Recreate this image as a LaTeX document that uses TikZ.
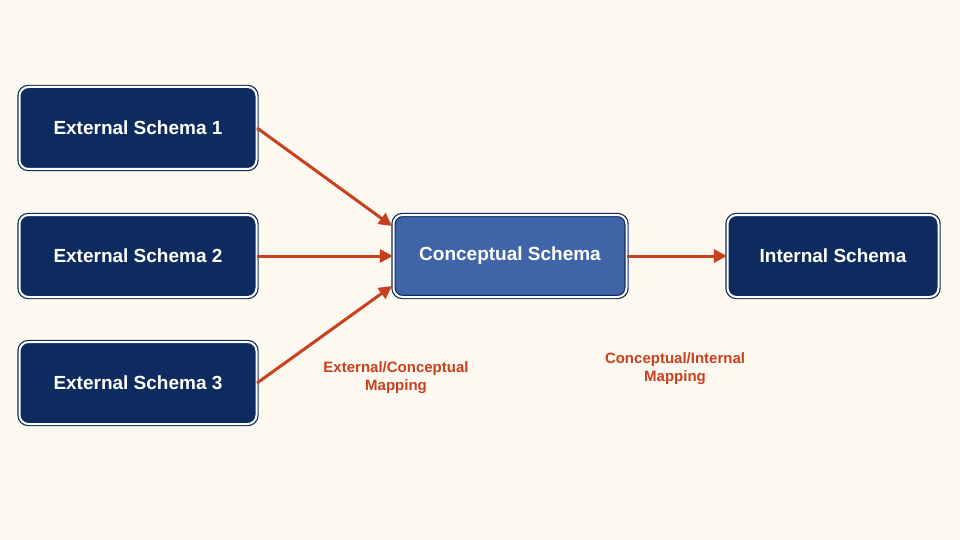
\documentclass[tikz,border=0pt]{standalone}
\usepackage{fontspec}
\setmainfont{Liberation Sans}
\usetikzlibrary{arrows.meta}
\definecolor{bg}{HTML}{FDF9F1}
\definecolor{navy}{HTML}{0D2B5E}
\definecolor{mid}{HTML}{4064A8}
\definecolor{arr}{HTML}{C8401E}
\begin{document}
\begin{tikzpicture}[x=1pt,y=-1pt,
 box/.style={draw=navy,double=white,double distance=2pt,line width=1.2pt,rounded corners=9pt,fill=navy,text=white,font=\bfseries\fontsize{19}{22}\selectfont,minimum height=82pt,inner sep=0pt},
 con/.style={box,fill=mid},
 ar/.style={draw=arr,line width=3pt,-{Triangle[length=13pt,width=13pt]}},
 lab/.style={text=arr,font=\bfseries\fontsize{15}{18}\selectfont,align=center}]
\fill[bg] (0,0) rectangle (960,540);
\node[box,minimum width=237pt] (e1) at (138,128) {External Schema 1};
\node[box,minimum width=237pt] (e2) at (138,256) {External Schema 2};
\node[box,minimum width=237pt] (e3) at (138,383) {External Schema 3};
\node[con,minimum width=233pt] (c) at (510,256) {Conceptual Schema};
\node[box,minimum width=211pt] (i) at (833,256) {Internal Schema};
\coordinate (c1) at (392,226);
\coordinate (c3) at (392,286);
\draw[ar] (e1.east) -- (c1);
\draw[ar] (e2.east) -- (c.west);
\draw[ar] (e3.east) -- (c3);
\draw[ar] (c.east) -- (i.west);
\node[lab] (l1) at (396,378) {External/Conceptual\\Mapping};
\node[lab] (l2) at (675,369) {Conceptual/Internal\\Mapping};
\end{tikzpicture}
\end{document}
